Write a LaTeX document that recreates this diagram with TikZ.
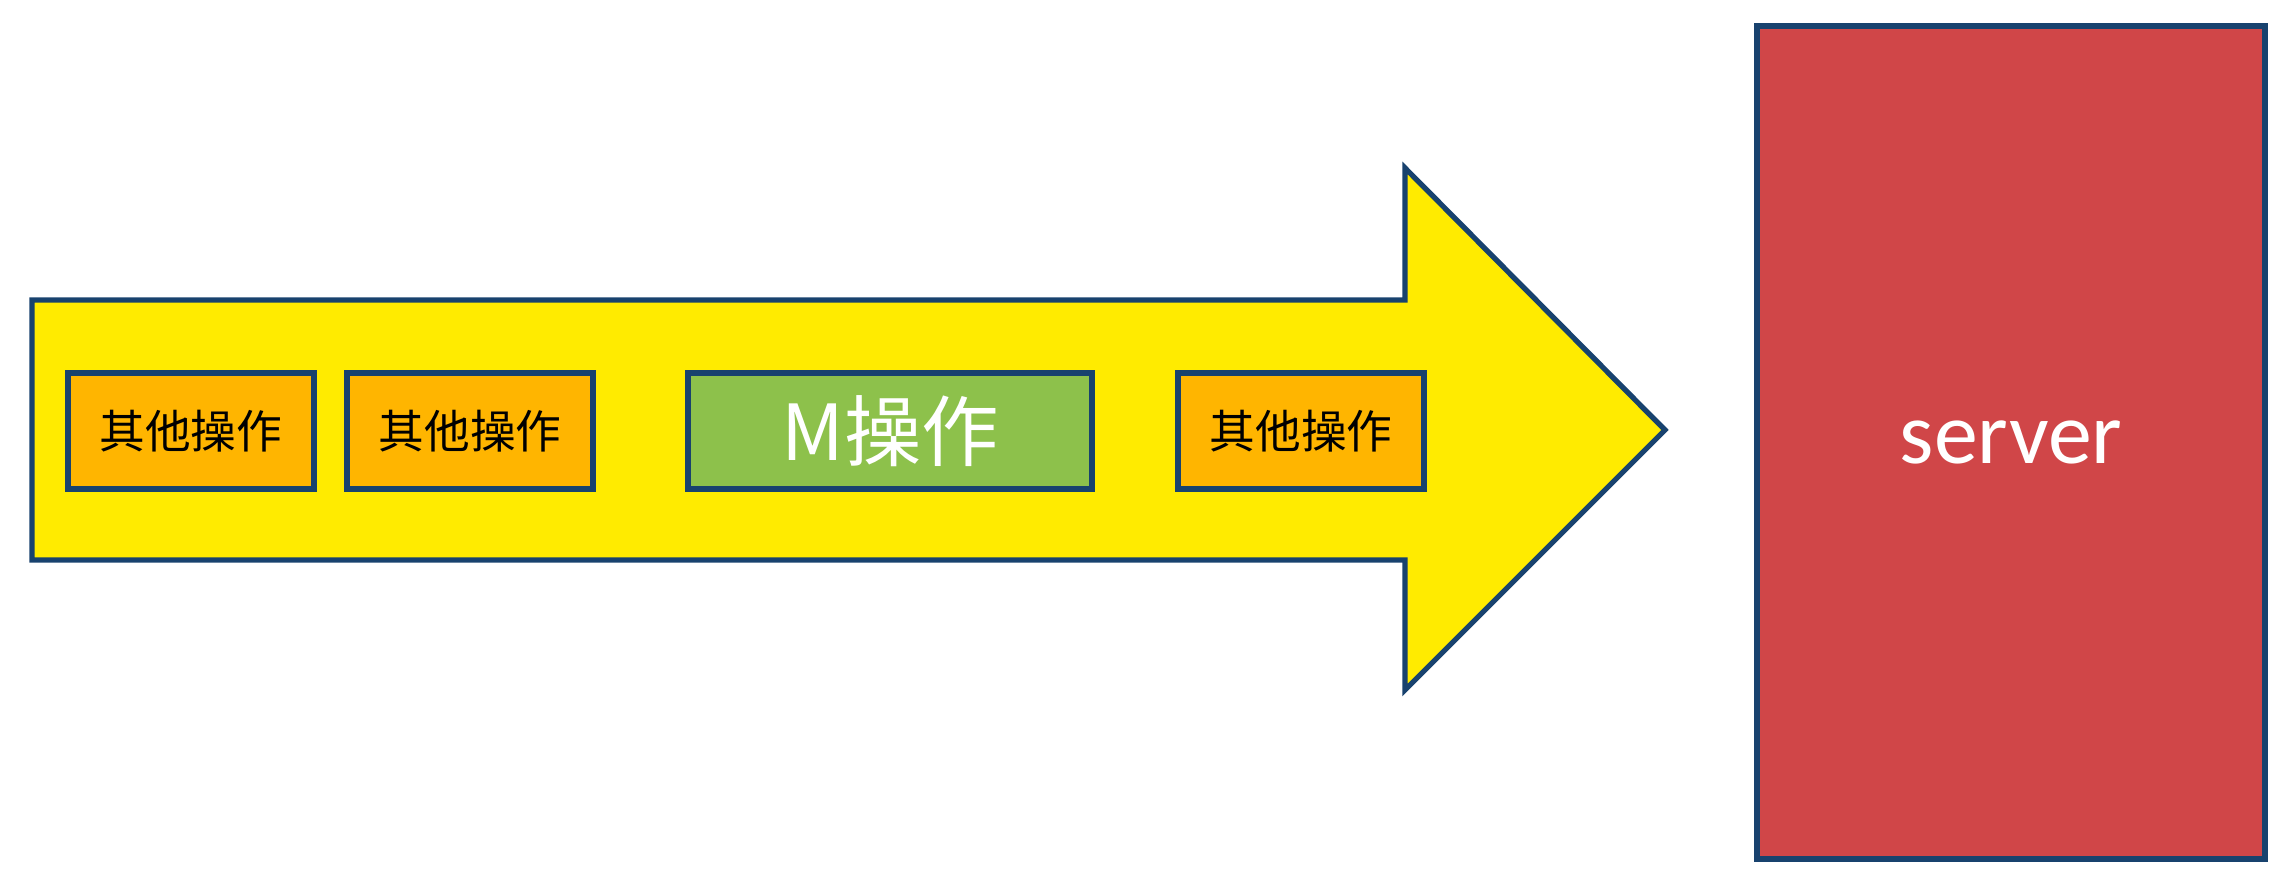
\documentclass[tikz,border=0pt]{standalone}
\usepackage{fontspec}
\setmainfont{Carlito}
\newfontfamily\cjk{Noto Sans CJK SC}

\definecolor{arrowyellow}{RGB}{255,235,0}
\definecolor{oporange}{RGB}{255,181,0}
\definecolor{opgreen}{RGB}{141,193,75}
\definecolor{serverred}{RGB}{208,70,72}
\definecolor{edgeblue}{RGB}{24,66,110}

\tikzset{
    opbox/.style={draw=edgeblue, line width=1.5pt, fill=oporange,
        minimum width=2.46cm, minimum height=1.16cm, inner sep=0pt,
        font=\cjk\fontsize{13}{15}\selectfont, text=black},
    mbox/.style={opbox, fill=opgreen, minimum width=4.04cm,
        font=\cjk\fontsize{22}{26}\selectfont, text=white}
}

\begin{document}
\begin{tikzpicture}

    % Fix the page size
    \useasboundingbox (0, 0) rectangle (22.94, 8.90);

    % Define corners of the big arrow
    \coordinate (P1) at (0.32, 5.90);
    \coordinate (P2) at (14.05, 5.90);
    \coordinate (P3) at (14.05, 7.22);
    \coordinate (Tip) at (16.65, 4.60);
    \coordinate (P4) at (14.05, 2.00);
    \coordinate (P5) at (14.05, 3.30);
    \coordinate (P6) at (0.32, 3.30);

    % Draw the big arrow
    \filldraw[fill=arrowyellow, draw=edgeblue, line width=1.5pt, line join=miter]
        (P1) -- (P2) -- (P3) -- (Tip) -- (P4) -- (P5) -- (P6) -- cycle;

    % Draw the operations inside the arrow
    \node[opbox] (op1) at (1.91, 4.59) {其他操作};
    \node[opbox] (op2) at (4.70, 4.59) {其他操作};
    \node[mbox]  (mop) at (8.90, 4.59) {M操作};
    \node[opbox] (op3) at (13.01, 4.59) {其他操作};

    % Draw the server
    \node[draw=edgeblue, line width=1.5pt, fill=serverred,
        minimum width=5.08cm, minimum height=8.33cm, inner sep=0pt,
        font=\fontsize{25}{30}\selectfont, text=white]
        (server) at (20.11, 4.475) {server};

\end{tikzpicture}
\end{document}
